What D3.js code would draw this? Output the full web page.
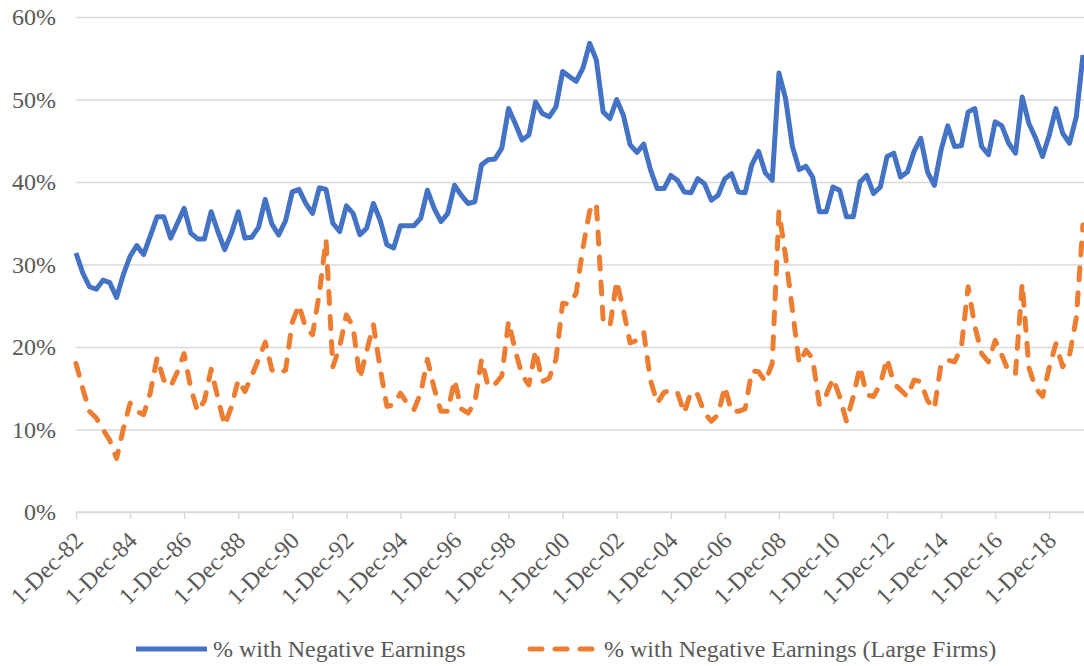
<!DOCTYPE html>
<html>
<head>
<meta charset="utf-8">
<script src="https://cdn.jsdelivr.net/npm/d3@7"></script>
<style>
  body { margin: 0; background: #fff; }
  text { font-family: "Liberation Serif", "Times New Roman", serif; fill: #595959; }
</style>
</head>
<body>
<script>
// quarterly observations, Dec-82 .. Mar-20 (in %)
const negEarnings = [
  31.4, 29.0, 27.3, 27.0, 28.1, 27.8, 26.0, 28.8, 31.0, 32.3,
  31.2, 33.5, 35.8, 35.8, 33.2, 35.0, 36.8, 33.8, 33.1, 33.1,
  36.4, 34.0, 31.8, 33.8, 36.4, 33.2, 33.3, 34.5, 37.9, 34.9,
  33.6, 35.3, 38.8, 39.1, 37.4, 36.2, 39.3, 39.1, 35.0, 34.0,
  37.1, 36.2, 33.6, 34.4, 37.4, 35.4, 32.4, 32.0, 34.7, 34.7,
  34.7, 35.6, 39.0, 36.8, 35.2, 36.2, 39.6, 38.4, 37.4, 37.6,
  42.1, 42.7, 42.8, 44.1, 48.9, 47.1, 45.1, 45.7, 49.7, 48.3,
  47.9, 49.1, 53.4, 52.8, 52.2, 53.8, 56.8, 54.8, 48.5, 47.7,
  50.0, 48.1, 44.5, 43.6, 44.6, 41.5, 39.2, 39.2, 40.8, 40.2,
  38.8, 38.7, 40.4, 39.8, 37.8, 38.4, 40.4, 41.0, 38.8, 38.7,
  42.1, 43.7, 41.1, 40.2, 53.2, 50.1, 44.3, 41.5, 41.9, 40.6,
  36.4, 36.4, 39.4, 39.0, 35.8, 35.8, 40.0, 40.8, 38.6, 39.4,
  43.1, 43.5, 40.6, 41.2, 43.7, 45.3, 41.2, 39.6, 43.9, 46.8,
  44.3, 44.4, 48.5, 48.9, 44.3, 43.3, 47.3, 46.8, 44.7, 43.5,
  50.3, 47.1, 45.3, 43.1, 45.7, 48.9, 45.9, 44.7, 47.9, 55.4
];

const negEarningsLarge = [
  18.0, 15.0, 12.2, 11.4, 10.0, 8.7, 6.5, 10.1, 13.2, 12.2,
  11.8, 14.5, 18.7, 16.0, 15.2, 17.0, 19.2, 15.0, 12.2, 13.5,
  17.3, 13.8, 10.5, 12.8, 16.0, 14.6, 16.5, 18.5, 20.6, 17.2,
  16.8, 17.2, 23.0, 25.1, 22.3, 21.5, 26.5, 33.0, 17.6, 20.0,
  23.9, 22.5, 16.2, 19.5, 22.7, 17.5, 12.8, 13.0, 14.4, 13.2,
  12.4, 14.4, 18.5, 15.0, 12.2, 12.2, 16.0, 12.5, 12.0, 13.2,
  18.5, 15.2, 15.5, 16.5, 23.1, 19.6, 16.6, 15.4, 19.6, 15.8,
  16.2, 18.5, 25.3, 25.2, 26.5, 32.0, 36.5, 37.4, 23.3, 22.5,
  28.0, 24.5, 20.5, 20.8, 21.8, 16.0, 13.2, 14.5, 14.8, 14.5,
  12.0, 14.6, 14.2, 12.0, 11.0, 11.8, 15.2, 12.2, 12.2, 12.5,
  17.1, 17.0, 15.8, 18.0, 36.4, 31.0, 24.5, 18.0, 19.6, 18.6,
  13.0, 14.2, 16.2, 14.0, 11.0, 14.0, 17.6, 14.2, 14.0, 15.5,
  18.6, 15.6, 14.8, 14.0, 16.0, 15.8, 13.5, 12.5, 18.0, 18.4,
  18.2, 20.0, 27.3, 22.5, 19.2, 18.2, 20.8, 19.0, 17.0, 16.8,
  27.7, 17.5, 15.0, 14.0, 17.5, 20.4, 17.6, 19.0, 23.5, 34.8
];

const tickLabels = [
  "1-Dec-82", "1-Dec-84", "1-Dec-86", "1-Dec-88", "1-Dec-90", "1-Dec-92",
  "1-Dec-94", "1-Dec-96", "1-Dec-98", "1-Dec-00", "1-Dec-02", "1-Dec-04",
  "1-Dec-06", "1-Dec-08", "1-Dec-10", "1-Dec-12", "1-Dec-14", "1-Dec-16",
  "1-Dec-18"
];
const yTicks = [0, 0.1, 0.2, 0.3, 0.4, 0.5, 0.6];
const seriesNames = ["% with Negative Earnings", "% with Negative Earnings (Large Firms)"];

const w = 1084;
const h = 666;
const plotLeft = 76, plotRight = 1083, plotTop = 17, plotBottom = 512;

// one date per quarter, starting 1-Dec-82
const quarters = negEarnings.map((d, i) => d3.timeMonth.offset(new Date(1982, 11, 1), 3 * i));
const tickDates = tickLabels.map((d, i) => d3.timeMonth.offset(new Date(1982, 11, 1), 24 * i));

let svg = d3.select("body")
            .append("svg")
            .attr("width", w)
            .attr("height", h);

let x = d3.scaleTime()
          .domain([quarters[0], quarters[quarters.length - 1]])
          .range([plotLeft, plotRight]);

let y = d3.scaleLinear()
          .domain([0, 0.6])
          .range([plotBottom, plotTop]);

// horizontal gridlines + % labels
let yAxis = svg.append("g")
    .attr("transform", "translate(" + plotLeft + ",0)")
    .call(d3.axisLeft(y)
        .tickValues(yTicks)
        .tickSize(-(w - plotLeft))
        .tickPadding(20)
        .tickFormat(d3.format(".0%")));
yAxis.select(".domain").remove();
yAxis.selectAll("line")
    .attr("stroke", "#d9d9d9")
    .attr("stroke-width", 1.5);
yAxis.selectAll("text")
    .attr("font-size", 24)
    .attr("fill", "#595959");

// date axis
let xAxis = svg.append("g")
    .attr("transform", "translate(0," + plotBottom + ")")
    .call(d3.axisBottom(x)
        .tickValues(tickDates)
        .tickSize(7)
        .tickSizeOuter(0)
        .tickFormat((d, i) => tickLabels[i]));
xAxis.select(".domain")
    .attr("stroke", "#d9d9d9")
    .attr("stroke-width", 1.5)
    .attr("d", "M" + plotLeft + ",0H" + w);
xAxis.selectAll("line")
    .attr("stroke", "#d9d9d9")
    .attr("stroke-width", 1.5);
xAxis.selectAll("text")
    .attr("font-size", 24)
    .attr("fill", "#595959")
    .attr("text-anchor", "end")
    .attr("dy", null)
    .attr("y", null)
    .attr("transform", "translate(8,30) rotate(-45)");

let line = d3.line()
    .x((d, i) => x(quarters[i]))
    .y((d) => y(d / 100));

svg.append("path")
    .datum(negEarningsLarge)
    .attr("fill", "none")
    .attr("stroke", "#ED7D31")
    .attr("stroke-width", 5)
    .attr("stroke-linecap", "round")
    .attr("stroke-linejoin", "round")
    .attr("stroke-dasharray", "12,13")
    .attr("d", line);

svg.append("path")
    .datum(negEarnings)
    .attr("fill", "none")
    .attr("stroke", "#4472C4")
    .attr("stroke-width", 5)
    .attr("stroke-linejoin", "round")
    .attr("d", line);

// legend
const legendItems = [
    {name: seriesNames[0], color: "#4472C4", dash: null, x1: 136, x2: 207, tx: 213},
    {name: seriesNames[1], color: "#ED7D31", dash: "12,13", x1: 530, x2: 596, tx: 604}
];
let legend = svg.append("g");
legend.selectAll("line")
    .data(legendItems)
    .enter()
    .append("line")
    .attr("x1", (d) => d.x1)
    .attr("x2", (d) => d.x2)
    .attr("y1", 649)
    .attr("y2", 649)
    .attr("stroke", (d) => d.color)
    .attr("stroke-width", 5)
    .attr("stroke-linecap", (d) => d.dash ? "round" : "butt")
    .attr("stroke-dasharray", (d) => d.dash);
legend.selectAll("text")
    .data(legendItems)
    .enter()
    .append("text")
    .attr("x", (d) => d.tx)
    .attr("y", 657)
    .attr("font-size", 24)
    .text((d) => d.name);
</script>
</body>
</html>
